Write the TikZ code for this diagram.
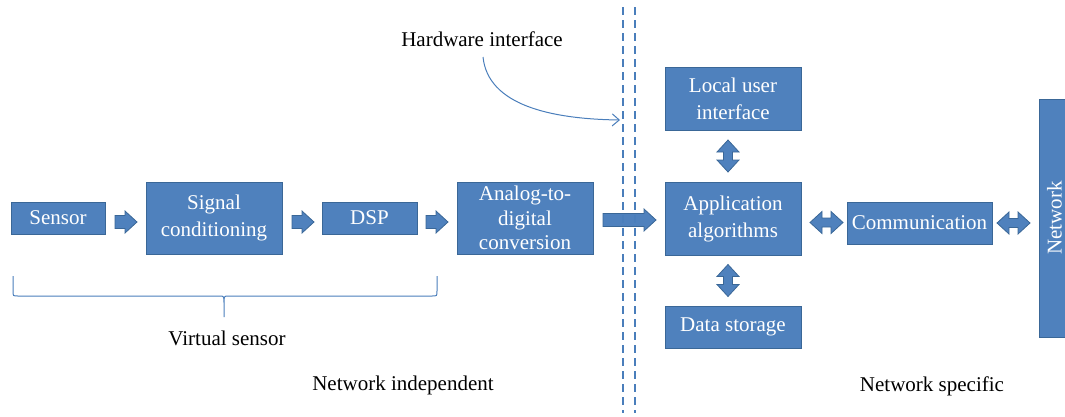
\documentclass[tikz,border=0pt]{standalone}
\usepackage{fontspec}
\setmainfont{Liberation Serif}
\newfontfamily\diagfont{Liberation Serif}
\usetikzlibrary{arrows.meta,calc}
\definecolor{boxfill}{HTML}{4F81BD}
\definecolor{boxline}{HTML}{3A6797}
\definecolor{linecol}{HTML}{4A7EBB}
\tikzset{
  blk/.style={draw=boxline, line width=0.9pt, fill=boxfill, text=white, inner sep=0pt,
    align=center, font=\diagfont\fontsize{21}{27}\selectfont},
  arrowshape/.style={draw=boxline, line width=0.8pt, fill=boxfill, line join=miter},
  lbl/.style={font=\diagfont\fontsize{21}{27}\selectfont, text=black, inner sep=0pt},
  rarr/.pic={\path[arrowshape] (0,-6.5) -- (10,-6.5) -- (10,-11) -- (22,0) -- (10,11) -- (10,6.5) -- (0,6.5) -- cycle;},
  bigarr/.pic={\path[arrowshape] (0,-6.5) -- (41,-6.5) -- (41,-11) -- (53,0) -- (41,11) -- (41,6.5) -- (0,6.5) -- cycle;},
  lrarr/.pic={\path[arrowshape] (0,0) -- (12,-11) -- (12,-4.5) -- (21,-4.5) -- (21,-11) -- (33,0) -- (21,11) -- (21,4.5) -- (12,4.5) -- (12,11) -- cycle;},
  udarr/.pic={\path[arrowshape] (0,0) -- (-11,12) -- (-4.5,12) -- (-4.5,20) -- (-11,20) -- (0,32) -- (11,20) -- (4.5,20) -- (4.5,12) -- (11,12) -- cycle;},
  hwline/.style={draw=linecol, line width=1.3pt, dash pattern=on 8pt off 5pt},
}
\begin{document}
\begin{tikzpicture}[x=1pt,y=-1pt]
\useasboundingbox (0,0) rectangle (1065,416);

% boxes
\node[blk, minimum width=94pt, minimum height=32pt] (sensor) at (58,218) {Sensor};
\node[blk, minimum width=136pt, minimum height=72pt] (sc) at (214,218) {Signal\\conditioning};
\node[blk, minimum width=95pt, minimum height=32pt] (dsp) at (369.5,218) {DSP};
\node[blk, minimum width=136pt, minimum height=72pt, font=\diagfont\fontsize{21}{24.5}\selectfont] (adc) at (525,218) {Analog-to-\\digital\\conversion};
\node[blk, minimum width=136pt, minimum height=63pt] (lui) at (733,98.5) {Local user\\interface};
\node[blk, minimum width=136pt, minimum height=73pt] (app) at (733,218.5) {Application\\algorithms};
\node[blk, minimum width=136pt, minimum height=42pt] (ds) at (733,327) {Data storage};
\node[blk, minimum width=145pt, minimum height=42pt] (comm) at (919.5,223) {Communication};
\node[blk, minimum width=238pt, minimum height=31pt, rotate=90] (net) at (1054.5,218) {Network};

% block arrows
\pic at (115,222) {rarr};
\pic at (292,222) {rarr};
\pic at (426,222) {rarr};
\pic at (603,220) {bigarr};
\pic at (810,222.5) {lrarr};
\pic at (997,223) {lrarr};
\pic at (728,140) {udarr};
\pic at (728,264.5) {udarr};

% hardware interface dashed lines
\coordinate (d1t) at (623,7);
\coordinate (d1b) at (623,413);
\coordinate (d2t) at (635,7);
\coordinate (d2b) at (635,413);
\draw[hwline] (d1t) -- (d1b);
\draw[hwline] (d2t) -- (d2b);

% labels
\node[lbl] (hw) at (482,39) {Hardware interface};
\coordinate (hwend) at (620,120);
\draw[linecol, line width=1pt, -{Straight Barb[length=7pt,width=12pt,line width=1pt]}]
  (483,57) .. controls (488,105) and (550,119) .. (hwend);

\node[lbl] (vs) at (227,338) {Virtual sensor};
\node[lbl] (ni) at (403,385) {Network independent};
\node[lbl] (ns) at (932,386) {Network specific};

% brace
\draw[linecol, line width=1pt]
  (13,276) -- (13,291) .. controls (13,296) .. (18,296) -- (219,296)
  .. controls (224,296) .. (224,303) -- (224,317)
  (224,303) .. controls (224,296) .. (229,296) -- (432,296)
  .. controls (437,296) .. (437,291) -- (437,276);
\end{tikzpicture}
\end{document}
